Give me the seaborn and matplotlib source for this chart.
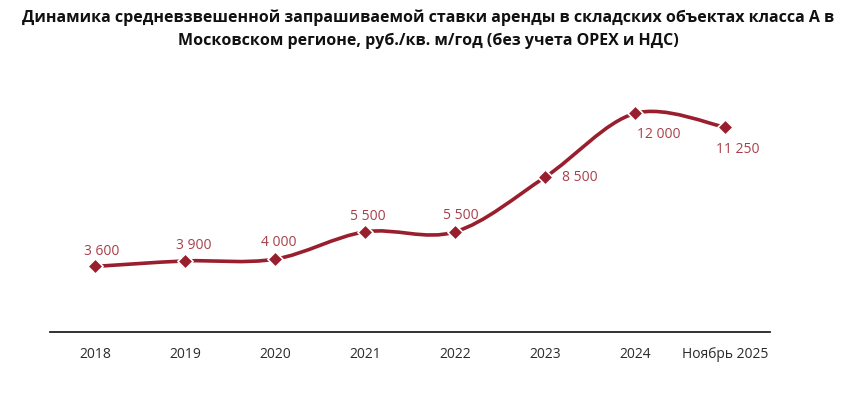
import matplotlib.pyplot as plt
import numpy as np
import seaborn as sns
from matplotlib.path import Path
from matplotlib.patches import PathPatch

# Data
categories = ["2018", "2019", "2020", "2021", "2022", "2023", "2024", "Ноябрь 2025"]
rates = [3600, 3900, 4000, 5500, 5500, 8500, 12000, 11250]
value_labels = ["3 600", "3 900", "4 000", "5 500", "5 500", "8 500", "12 000", "11 250"]

LINE_COLOR = "#9A1F2E"
LABEL_COLOR = "#A8404A"
TITLE = ("Динамика средневзвешенной запрашиваемой ставки аренды в складских объектах класса А в\n"
         "Московском регионе, руб./кв. м/год (без учета OPEX и НДС)")

# label offsets in points relative to the marker (dx, dy, ha)
label_offsets = [(5, 11, "center"), (6, 11, "center"), (3, 12, "center"), (2, 11, "center"),
                 (4, 12, "center"), (12, 0, "left"), (17, -15, "center"), (9, -16, "center")]

sns.set_theme(style="white")
plt.rcParams["font.family"] = ["Open Sans", "DejaVu Sans"]

fig = plt.figure(figsize=(8.57, 3.96), dpi=100)
ax = fig.add_axes([50 / 857, 64 / 396, 720 / 857, 255 / 396])

x = np.arange(len(categories), dtype=float)
y = np.array(rates, dtype=float)

# smoothed line (Catmull-Rom style bezier, like Excel's smoothed line)
verts = [(x[0], y[0])]
codes = [Path.MOVETO]
n = len(x)
for i in range(n - 1):
    p0 = np.array([x[max(i - 1, 0)], y[max(i - 1, 0)]])
    p1 = np.array([x[i], y[i]])
    p2 = np.array([x[i + 1], y[i + 1]])
    p3 = np.array([x[min(i + 2, n - 1)], y[min(i + 2, n - 1)]])
    c1 = p1 + (p2 - p0) / 6
    c2 = p2 - (p3 - p1) / 6
    verts += [tuple(c1), tuple(c2), tuple(p2)]
    codes += [Path.CURVE4] * 3
ax.add_patch(PathPatch(Path(verts, codes), facecolor="none", edgecolor=LINE_COLOR,
                       lw=2.6, capstyle="round", zorder=2))

sns.scatterplot(x=x, y=y, marker="D", s=60, color=LINE_COLOR, edgecolor="white",
                linewidth=1.2, ax=ax, zorder=3)

for xi, yi, lab, (dx, dy, ha) in zip(x, y, value_labels, label_offsets):
    ax.annotate(lab, (xi, yi), xytext=(dx, dy), textcoords="offset points",
                ha=ha, va="center", fontsize=10, color=LABEL_COLOR)

ax.set_xlim(-0.5, len(categories) - 0.5)
ax.set_ylim(0, 14000)
ax.set_xticks(x)
ax.set_xticklabels(categories, fontsize=10, color="#2b2b2b")
ax.set_yticks([])
ax.tick_params(axis="x", length=0, pad=11)
for side in ["top", "right", "left"]:
    ax.spines[side].set_visible(False)
ax.spines["bottom"].set_color("#222222")
ax.spines["bottom"].set_linewidth(1.3)

fig.text(0.5, 0.975, TITLE, ha="center", va="top", fontsize=11.5, fontweight="bold",
         color="#111111", linespacing=1.5)

fig.savefig("out.png", dpi=100)
